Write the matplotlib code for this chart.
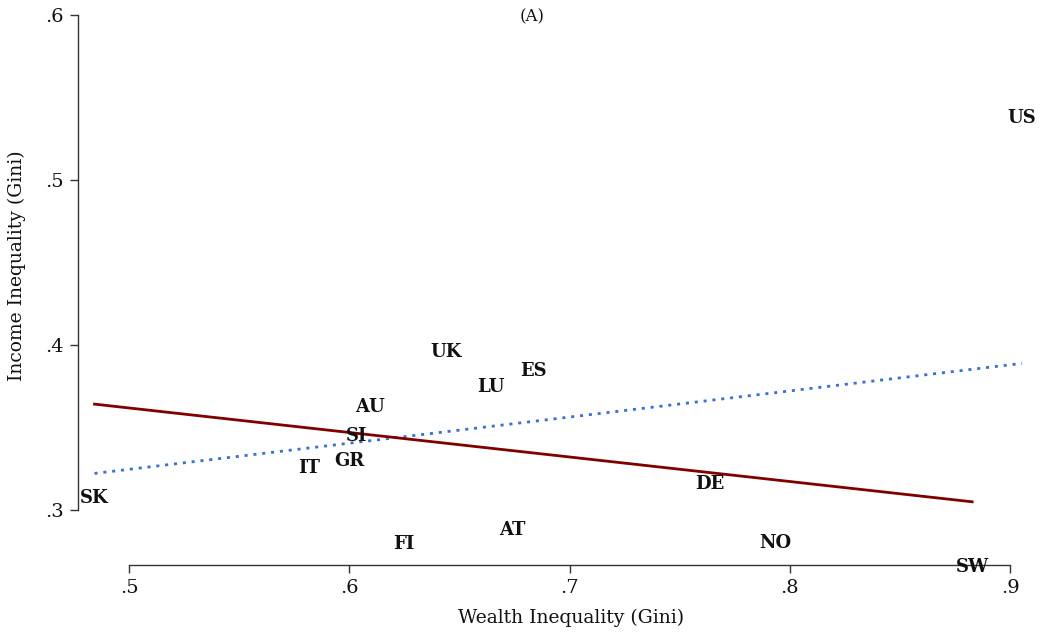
import matplotlib
matplotlib.use("Agg")
import matplotlib.pyplot as plt

countries = ["SK", "IT", "GR", "SI", "AU", "UK", "LU", "ES", "FI", "AT", "DE", "NO", "SW", "US"]
wealth_gini = [0.4843, 0.5817, 0.5999, 0.6035, 0.6094, 0.6439, 0.6644, 0.6834, 0.6249, 0.6739, 0.7638, 0.7933, 0.8828, 0.9054]
income_gini = [0.3073, 0.3255, 0.3297, 0.3448, 0.3624, 0.3958, 0.3745, 0.3842, 0.2794, 0.2879, 0.3158, 0.2800, 0.2655, 0.5376]

# fitted lines
fit_all_x = [0.4843, 0.9054]
fit_all_y = [0.3222, 0.3889]
fit_noUS_x = [0.4843, 0.8828]
fit_noUS_y = [0.3642, 0.3050]

xticks = [0.5, 0.6, 0.7, 0.8, 0.9]
xticklabels = [".5", ".6", ".7", ".8", ".9"]
yticks = [0.3, 0.4, 0.5, 0.6]
yticklabels = [".3", ".4", ".5", ".6"]

plt.rcParams['font.family'] = ['DejaVu Serif']

fig = plt.figure(figsize=(10.46, 6.33), dpi=100)
ax = fig.add_axes([78/1046, (633-565)/633, 962/1046, 560/633])
ax.set_xlim(0.4768, 0.9136)
ax.set_ylim(0.2667, 0.6061)

ax.plot(fit_all_x, fit_all_y, color="#3D6FCB", lw=2.0, linestyle=(0, (1.1, 2.1)),
        dash_capstyle="butt", zorder=2)
ax.plot(fit_noUS_x, fit_noUS_y, color="#800000", lw=2.0, zorder=2)

for c, xi, yi in zip(countries, wealth_gini, income_gini):
    ax.text(xi, yi, c, ha="center", va="center", fontsize=13, fontweight="bold",
            color="#111111", clip_on=False, zorder=3)

for s in ["top", "right"]:
    ax.spines[s].set_visible(False)
ax.spines["left"].set_bounds(0.3, 0.6)
ax.spines["bottom"].set_bounds(0.5, 0.9)
for s in ["left", "bottom"]:
    ax.spines[s].set_color("#333333")
    ax.spines[s].set_linewidth(1.0)

ax.set_xticks(xticks)
ax.set_xticklabels(xticklabels)
ax.set_yticks(yticks)
ax.set_yticklabels(yticklabels)
ax.tick_params(axis="both", direction="out", length=6, width=1.0, color="#333333",
               labelsize=14, labelcolor="#111111", pad=4)

ax.set_xlabel("Wealth Inequality (Gini)", fontsize=13.5, color="#111111")
ax.set_ylabel("Income Inequality (Gini)", fontsize=13.5, color="#111111")
# center the axis titles on the spine ranges (in pixel terms)
ax.xaxis.set_label_coords((571 - 78) / 962, -(618 - 565) / 560)
ax.yaxis.set_label_coords(-(78 - 17) / 962, (565 - 266) / 560)
ax.xaxis.label.set_verticalalignment("center")
ax.yaxis.label.set_verticalalignment("center")
fig.text(532/1046, 1 - 17/633, "(A)", ha="center", va="center", fontsize=12, color="#111111")

fig.savefig("out.png", dpi=100)
